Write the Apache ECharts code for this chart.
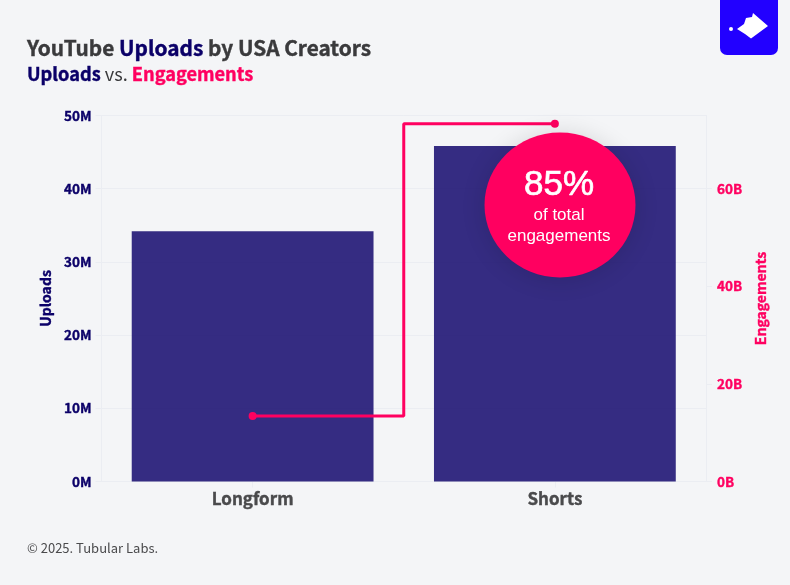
<!DOCTYPE html>
<html><head><meta charset="utf-8">
<style>html,body{margin:0;padding:0;background:#f4f5f7}#c{width:790px;height:585px}</style>
<script src="https://cdn.jsdelivr.net/npm/echarts@6/dist/echarts.min.js"></script>
</head><body><div id="c"></div>
<script>
const categories = ['Longform', 'Shorts'];
const uploadsM = [34.2, 45.85];
const engagementsB = [13.4, 73.3];
const leftTicks = [0, 10, 20, 30, 40, 50];
const rightTicks = [0, 20, 40, 60];
const NAVY = '#0b0068', PINK = '#ff0060', GREY = '#3a3a3c', GRID = '#ebedf2';
const F = '"Noto Sans CJK SC","Noto Sans",sans-serif';
const HF = '"Liberation Sans",Arial,sans-serif';
const heavy = c => ({textBorderColor: c, textBorderWidth: 0.4});

const chart = echarts.init(document.getElementById('c'), null, {renderer: 'canvas'});
chart.setOption({
  backgroundColor: '#f4f5f7',
  animation: false,
  textStyle: {fontFamily: F},
  title: [
    {left: 27, top: 37.5, padding: 0, text: '{g|YouTube }{n|Uploads}{g| by USA Creators}',
     textStyle: {rich: {
       g: {fontFamily: F, fontSize: 20.8, fontWeight: 700, color: GREY, ...heavy(GREY)},
       n: {fontFamily: F, fontSize: 20.8, fontWeight: 700, color: NAVY, ...heavy(NAVY)}}}},
    {left: 27, top: 64.5, padding: 0, text: '{n|Uploads}{g| vs. }{p|Engagements}',
     textStyle: {rich: {
       n: {fontFamily: F, fontSize: 18.2, fontWeight: 700, color: NAVY, ...heavy(NAVY)},
       g: {fontFamily: F, fontSize: 18.2, fontWeight: 400, color: GREY},
       p: {fontFamily: F, fontSize: 18.2, fontWeight: 700, color: PINK, ...heavy(PINK)}}}},
    {left: 27, top: 542, padding: 0, text: '© 2025. Tubular Labs.',
     textStyle: {fontFamily: F, fontSize: 13, fontWeight: 400, color: '#4a4a4c'}}
  ],
  grid: {left: 101.5, right: 84, top: 115.5, bottom: 103.5, containLabel: false},
  xAxis: {
    type: 'category', data: categories,
    axisLine: {lineStyle: {color: GRID, width: 1}},
    axisTick: {show: true, alignWithLabel: true, length: 6, lineStyle: {color: GRID}},
    axisLabel: {fontFamily: F, fontSize: 17, fontWeight: 700, color: '#4a4a4c', margin: 9, ...heavy('#4a4a4c')},
    splitLine: {show: false}
  },
  yAxis: [
    {type: 'value', min: 0, max: 50, interval: 10, name: 'Uploads', nameLocation: 'middle', nameGap: 48, nameRotate: 90,
     nameTextStyle: {fontFamily: F, fontSize: 14, fontWeight: 700, color: NAVY, ...heavy(NAVY)},
     axisLine: {show: true, lineStyle: {color: GRID}},
     axisTick: {show: true, length: 6, lineStyle: {color: GRID}},
     axisLabel: {fontFamily: F, fontSize: 13.5, fontWeight: 700, color: NAVY, margin: 10, formatter: v => v + 'M',
                 customValues: leftTicks, ...heavy(NAVY)},
     splitLine: {show: true, lineStyle: {color: GRID, width: 1}}},
    {type: 'value', min: 0, max: 75, interval: 20, name: 'Engagements', nameLocation: 'middle', nameGap: 41, nameRotate: 90,
     nameTextStyle: {fontFamily: F, fontSize: 14, fontWeight: 700, color: PINK, ...heavy(PINK)},
     axisLine: {show: true, lineStyle: {color: GRID}},
     axisTick: {show: true, length: 6, lineStyle: {color: GRID}, customValues: rightTicks},
     axisLabel: {fontFamily: F, fontSize: 13.5, fontWeight: 700, color: PINK, margin: 11, formatter: v => v + 'B',
                 customValues: rightTicks, ...heavy(PINK)},
     splitLine: {show: false}}
  ],
  series: [
    {name: 'Uploads', type: 'bar', yAxisIndex: 0, data: uploadsM, barWidth: '80%',
     itemStyle: {color: NAVY, opacity: 0.82}, z: 2},
    {name: 'Engagements', type: 'line', yAxisIndex: 1, data: engagementsB, step: 'middle',
     symbol: 'circle', symbolSize: 8, showSymbol: true,
     lineStyle: {color: PINK, width: 3}, itemStyle: {color: PINK}, z: 3}
  ],
  graphic: [
    {type: 'ellipse', z: 10, shape: {cx: 560, cy: 205, rx: 75.5, ry: 72.5},
     style: {fill: PINK, shadowBlur: 24, shadowColor: 'rgba(0,0,0,0.14)', shadowOffsetY: 2}},
    {type: 'text', z: 11, style: {x: 559, y: 185.5, text: '85%', fill: '#fff', stroke: '#fff', lineWidth: 0.7, align: 'center', verticalAlign: 'middle',
      font: '400 35px ' + HF}},
    {type: 'text', z: 11, style: {x: 559, y: 215, text: 'of total', fill: '#fff', align: 'center', verticalAlign: 'middle',
      font: '400 17px ' + HF}},
    {type: 'text', z: 11, style: {x: 559, y: 236, text: 'engagements', fill: '#fff', align: 'center', verticalAlign: 'middle',
      font: '400 17px ' + HF}},
    {type: 'rect', z: 10, shape: {x: 720, y: -10, width: 58, height: 65, r: 7}, style: {fill: '#2200ff'}},
    {type: 'polygon', z: 11, shape: {points: [[737,29],[744,24],[746,18],[752,17],[753,13],[768,26],[751,38.5],[745,34]]},
     style: {fill: '#fff'}},
    {type: 'circle', z: 11, shape: {cx: 731, cy: 29, r: 2}, style: {fill: '#fff'}}
  ]
});
</script></body></html>
